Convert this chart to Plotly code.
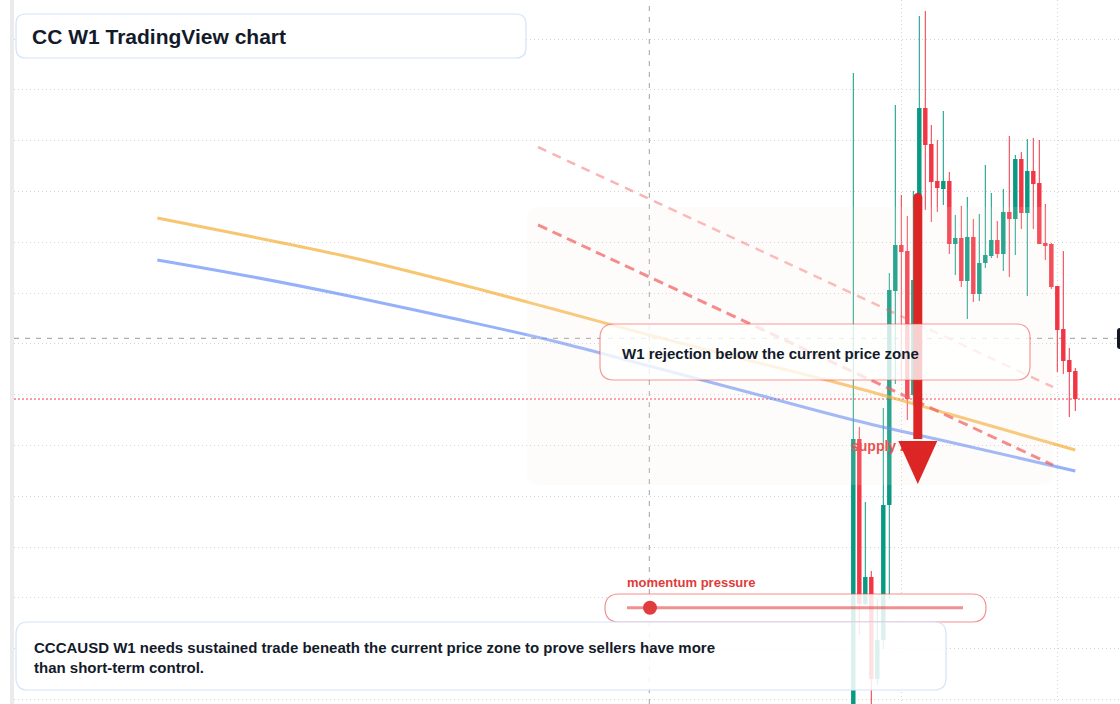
import plotly.graph_objects as go

# ---------------- data (weekly candles, CC / USD) ----------------
candle_idx = list(range(38))
opens = [0.05807, 0.12126, 0.08878, 0.09409, 0.07402, 0.08169, 0.10827, 0.15039, 0.15945, 0.15827,
         0.12992, 0.15256, 0.18642, 0.17933, 0.17205, 0.17047, 0.17205, 0.15965, 0.16083, 0.15236,
         0.16102, 0.14980, 0.15591, 0.15728, 0.16043, 0.15768, 0.16594, 0.16457, 0.17638, 0.16575,
         0.17402, 0.17165, 0.15984, 0.15965, 0.15138, 0.14291, 0.13681, 0.13465]
highs = [0.19331, 0.12362, 0.10886, 0.09528, 0.08976, 0.12736, 0.15394, 0.18701, 0.16929, 0.16516,
         0.17008, 0.20453, 0.20551, 0.18307, 0.18012, 0.18583, 0.17382, 0.16535, 0.16713, 0.16890,
         0.16457, 0.16555, 0.17520, 0.16969, 0.16417, 0.17047, 0.18091, 0.17717, 0.17776, 0.18031,
         0.18051, 0.18012, 0.16752, 0.15984, 0.15138, 0.15827, 0.13917, 0.13524]
lows = [0.05217, 0.08268, 0.08858, 0.06752, 0.07283, 0.07992, 0.08976, 0.13209, 0.13307, 0.12500,
        0.12795, 0.15020, 0.16634, 0.16398, 0.16594, 0.16732, 0.15768, 0.15354, 0.15118, 0.14488,
        0.14823, 0.14843, 0.15492, 0.15689, 0.15689, 0.15433, 0.15315, 0.15748, 0.16260, 0.14941,
        0.16260, 0.15965, 0.15650, 0.15079, 0.13445, 0.13406, 0.12559, 0.12677]
closes = [0.12126, 0.08878, 0.09409, 0.07402, 0.08169, 0.10827, 0.15059, 0.15945, 0.15807, 0.12913,
          0.15256, 0.18642, 0.17913, 0.17185, 0.17067, 0.17205, 0.15965, 0.16083, 0.15236, 0.16102,
          0.14980, 0.15591, 0.15748, 0.16043, 0.15768, 0.16594, 0.16457, 0.17638, 0.16575, 0.17402,
          0.17146, 0.15965, 0.15925, 0.15118, 0.14272, 0.13661, 0.13445, 0.12913]

# moving averages (bar index, price)
ma_x = [-116, -100, -84, -67, -50, -34, -17, 0, 16, 37]
ma_fast = [0.16476, 0.16102, 0.15709, 0.15217, 0.14685, 0.14173, 0.13661, 0.13150, 0.12618, 0.11909]
ma_slow = [0.15650, 0.15315, 0.14941, 0.14508, 0.14055, 0.13563, 0.13031, 0.12500, 0.12067, 0.11496]

# descending trend lines (bar index, price)
trend_x = [-52.55, 33.28]
trend_upper = [0.17874, 0.13150]
trend_lower = [0.16339, 0.11614]

current_price = 0.12913
cursor_price = 0.14108
cursor_bar = -34.0
supply_label = (-0.38, 0.11949)
arrow_bar = 10.75
arrow_top, arrow_head, arrow_tip = 0.16969, 0.12087, 0.11240

# ---------------- styling helpers ----------------
W, H = 1120, 704
ML = 14
PW = W - ML
UP, DOWN = "#089981", "#f23645"


def px(xp):
    return (xp - ML) / PW


def py(yp):
    return 1 - yp / H


def rrect(x0, y0, x1, y1, r):
    X = lambda v: f"{px(v):.6f}"
    Y = lambda v: f"{py(v):.6f}"
    return (f"M {X(x0 + r)},{Y(y0)} L {X(x1 - r)},{Y(y0)} Q {X(x1)},{Y(y0)} {X(x1)},{Y(y0 + r)} "
            f"L {X(x1)},{Y(y1 - r)} Q {X(x1)},{Y(y1)} {X(x1 - r)},{Y(y1)} "
            f"L {X(x0 + r)},{Y(y1)} Q {X(x0)},{Y(y1)} {X(x0)},{Y(y1 - r)} "
            f"L {X(x0)},{Y(y0 + r)} Q {X(x0)},{Y(y0)} {X(x0 + r)},{Y(y0)} Z")


fig = go.Figure()

# wicks
for col, cond in ((UP, lambda o, c: c >= o), (DOWN, lambda o, c: c < o)):
    xs, ys = [], []
    for i, o, h, l, c in zip(candle_idx, opens, highs, lows, closes):
        if cond(o, c):
            xs += [i, i, None]
            ys += [l, h, None]
    fig.add_trace(go.Scatter(x=xs, y=ys, mode="lines", line=dict(color=col, width=1),
                             hoverinfo="skip", showlegend=False))

# bodies
fig.add_trace(go.Bar(
    x=candle_idx,
    y=[max(abs(c - o), 0.0002) for o, c in zip(opens, closes)],
    base=[min(o, c) for o, c in zip(opens, closes)],
    width=0.74,
    marker=dict(color=[UP if c >= o else DOWN for o, c in zip(opens, closes)], line=dict(width=0)),
    hoverinfo="skip", showlegend=False))

# moving averages
fig.add_trace(go.Scatter(x=ma_x, y=ma_fast, mode="lines", line=dict(color="rgba(245,166,35,0.65)", width=3, shape="spline"),
                         hoverinfo="skip", showlegend=False))
fig.add_trace(go.Scatter(x=ma_x, y=ma_slow, mode="lines", line=dict(color="rgba(79,125,246,0.6)", width=3, shape="spline"),
                         hoverinfo="skip", showlegend=False))

# trend lines
fig.add_trace(go.Scatter(x=trend_x, y=trend_upper, mode="lines",
                         line=dict(color="rgba(239,68,68,0.4)", width=2.5, dash="9px,7px"),
                         hoverinfo="skip", showlegend=False))
fig.add_trace(go.Scatter(x=trend_x, y=trend_lower, mode="lines",
                         line=dict(color="rgba(239,68,68,0.7)", width=3, dash="10px,6px"),
                         hoverinfo="skip", showlegend=False))

# supply zone label (under the arrow)
fig.add_trace(go.Scatter(x=[supply_label[0]], y=[supply_label[1]], mode="text", text=["supply zone"],
                         textposition="middle right",
                         textfont=dict(color="#e5393a", size=14, family="Liberation Sans, Arial, sans-serif", weight="bold"),
                         hoverinfo="skip", showlegend=False))

shapes = []
# left border strip
shapes.append(dict(type="rect", xref="paper", yref="paper", x0=px(10), x1=px(14), y0=0, y1=1,
                   fillcolor="#ebebeb", line=dict(width=0), layer="above"))
# crosshair + current price line
shapes.append(dict(type="line", xref="paper", yref="y", x0=0, x1=px(1117), y0=cursor_price, y1=cursor_price,
                   line=dict(color="#9a9a9a", width=1, dash="5px,6px"), layer="between"))
shapes.append(dict(type="line", xref="x", yref="paper", x0=cursor_bar, x1=cursor_bar, y0=0, y1=1,
                   line=dict(color="#a0a0a0", width=1, dash="5px,6px"), layer="between"))
shapes.append(dict(type="line", xref="paper", yref="y", x0=0, x1=1, y0=current_price, y1=current_price,
                   line=dict(color="#f23645", width=1, dash="2px,2px"), layer="between"))
# price label (clipped at right edge)
shapes.append(dict(type="path", xref="paper", yref="paper",
                   path=rrect(1117, 328, 1140, 349, 3), fillcolor="#131722", line=dict(width=0), layer="above"))
# zone
shapes.append(dict(type="path", xref="paper", yref="paper", path=rrect(527, 207, 1053, 485, 12),
                   fillcolor="rgba(245,235,225,0.15)", line=dict(width=0), layer="above"))
# arrow
shapes.append(dict(type="rect", xref="x", yref="y", x0=arrow_bar - 0.75, x1=arrow_bar + 0.75,
                   y0=arrow_head + 0.0004, y1=arrow_top - 0.00089,
                   fillcolor="#dc2626", line=dict(width=0), layer="above"))
shapes.append(dict(type="circle", xref="x", yref="y", x0=arrow_bar - 0.75, x1=arrow_bar + 0.75,
                   y0=arrow_top - 0.00177, y1=arrow_top,
                   fillcolor="#dc2626", line=dict(width=0), layer="above"))
shapes.append(dict(type="path", xref="x", yref="y",
                   path=f"M {arrow_bar - 3.25},{arrow_head} L {arrow_bar + 3.25},{arrow_head} L {arrow_bar},{arrow_tip} Z",
                   fillcolor="#dc2626", line=dict(width=0), layer="above"))
# rejection callout
shapes.append(dict(type="path", xref="paper", yref="paper", path=rrect(600, 324, 1030, 380, 14),
                   fillcolor="rgba(255,255,255,0.78)", line=dict(color="rgba(239,68,68,0.55)", width=1.2), layer="above"))
# momentum pill
shapes.append(dict(type="path", xref="paper", yref="paper", path=rrect(605, 594, 986, 622, 14),
                   fillcolor="rgba(255,255,255,0.85)", line=dict(color="rgba(239,68,68,0.6)", width=1.2), layer="above"))
shapes.append(dict(type="line", xref="paper", yref="paper", x0=px(627), x1=px(963), y0=py(607.7), y1=py(607.7),
                   line=dict(color="rgba(230,70,70,0.6)", width=3), layer="above"))
shapes.append(dict(type="circle", xref="paper", yref="paper", x0=px(643), x1=px(657), y0=py(614.7), y1=py(600.7),
                   fillcolor="#e03e3e", line=dict(width=0), layer="above"))
# bottom note box
shapes.append(dict(type="path", xref="paper", yref="paper", path=rrect(16, 622, 946, 690, 12),
                   fillcolor="rgba(255,255,255,0.86)", line=dict(color="#d5e3fb", width=1.2), layer="above"))
# title box
shapes.append(dict(type="path", xref="paper", yref="paper", path=rrect(16, 14, 526, 58, 10),
                   fillcolor="#ffffff", line=dict(color="#d5e3fb", width=1.2), layer="above"))

FONT = "Liberation Sans, Arial, sans-serif"
annotations = [
    dict(x=px(30), y=py(36), xref="paper", yref="paper", xanchor="left", yanchor="middle", showarrow=False,
         text="CC W1 TradingView chart", font=dict(family=FONT, size=21, color="#131b2b", weight="bold")),
    dict(x=px(620), y=py(353.5), xref="paper", yref="paper", xanchor="left", yanchor="middle", showarrow=False,
         text="W1 rejection below the current price zone", font=dict(family=FONT, size=15, color="#131b2b", weight="bold")),
    dict(x=px(625), y=py(582), xref="paper", yref="paper", xanchor="left", yanchor="middle", showarrow=False,
         text="momentum pressure", font=dict(family=FONT, size=13, color="#e03b3b", weight="bold")),
    dict(x=px(32), y=py(657), xref="paper", yref="paper", xanchor="left", yanchor="middle", showarrow=False, align="left",
         text="CCCAUSD W1 needs sustained trade beneath the current price zone to prove sellers have more<br>than short-term control.",
         font=dict(family=FONT, size=15, color="#131b2b", weight="bold")),
]

fig.update_layout(
    width=W, height=H,
    margin=dict(l=ML, r=0, t=0, b=0),
    paper_bgcolor="#ffffff", plot_bgcolor="#ffffff",
    showlegend=False, hovermode=False,
    shapes=shapes, annotations=annotations,
    xaxis=dict(range=[(14 - 853.3) / 6, (1120 - 853.3) / 6], tickvals=[8, 34], showticklabels=False,
               showgrid=True, gridcolor="#d3d3d3", griddash="1px,3px", gridwidth=1,
               zeroline=False, showline=False, ticks=""),
    yaxis=dict(range=[(1055 - 704) / 5080, 1055 / 5080], tick0=0, dtick=0.01, showticklabels=False,
               showgrid=True, gridcolor="#d3d3d3", griddash="1px,3px", gridwidth=1,
               zeroline=False, showline=False, ticks=""),
)

fig.write_html("out.html", config={"displayModeBar": False})
